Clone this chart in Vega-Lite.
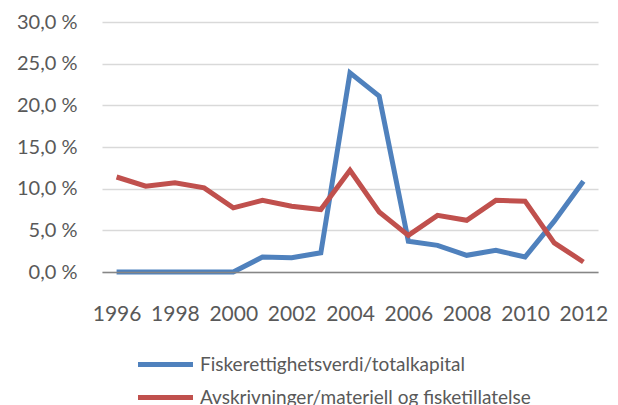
{
  "$schema": "https://vega.github.io/schema/vega-lite/v6.json",
  "width": 496,
  "height": 250,
  "autosize": {"type": "none"},
  "padding": {"left": 102, "top": 22, "right": 20, "bottom": 133},
  "background": "white",
  "config": {
    "view": {"stroke": null},
    "font": "Lato"
  },
  "data": {
    "values": [
      {"year": 1996, "series": "Fiskerettighetsverdi/totalkapital", "value": 0},
      {"year": 1997, "series": "Fiskerettighetsverdi/totalkapital", "value": 0},
      {"year": 1998, "series": "Fiskerettighetsverdi/totalkapital", "value": 0},
      {"year": 1999, "series": "Fiskerettighetsverdi/totalkapital", "value": 0},
      {"year": 2000, "series": "Fiskerettighetsverdi/totalkapital", "value": 0},
      {"year": 2001, "series": "Fiskerettighetsverdi/totalkapital", "value": 1.8},
      {"year": 2002, "series": "Fiskerettighetsverdi/totalkapital", "value": 1.7},
      {"year": 2003, "series": "Fiskerettighetsverdi/totalkapital", "value": 2.3},
      {"year": 2004, "series": "Fiskerettighetsverdi/totalkapital", "value": 23.9},
      {"year": 2005, "series": "Fiskerettighetsverdi/totalkapital", "value": 21.1},
      {"year": 2006, "series": "Fiskerettighetsverdi/totalkapital", "value": 3.7},
      {"year": 2007, "series": "Fiskerettighetsverdi/totalkapital", "value": 3.2},
      {"year": 2008, "series": "Fiskerettighetsverdi/totalkapital", "value": 2.0},
      {"year": 2009, "series": "Fiskerettighetsverdi/totalkapital", "value": 2.6},
      {"year": 2010, "series": "Fiskerettighetsverdi/totalkapital", "value": 1.8},
      {"year": 2011, "series": "Fiskerettighetsverdi/totalkapital", "value": 6.1},
      {"year": 2012, "series": "Fiskerettighetsverdi/totalkapital", "value": 10.9},
      {"year": 1996, "series": "Avskrivninger/materiell og fisketillatelse", "value": 11.4},
      {"year": 1997, "series": "Avskrivninger/materiell og fisketillatelse", "value": 10.3},
      {"year": 1998, "series": "Avskrivninger/materiell og fisketillatelse", "value": 10.7},
      {"year": 1999, "series": "Avskrivninger/materiell og fisketillatelse", "value": 10.1},
      {"year": 2000, "series": "Avskrivninger/materiell og fisketillatelse", "value": 7.7},
      {"year": 2001, "series": "Avskrivninger/materiell og fisketillatelse", "value": 8.6},
      {"year": 2002, "series": "Avskrivninger/materiell og fisketillatelse", "value": 7.9},
      {"year": 2003, "series": "Avskrivninger/materiell og fisketillatelse", "value": 7.5},
      {"year": 2004, "series": "Avskrivninger/materiell og fisketillatelse", "value": 12.2},
      {"year": 2005, "series": "Avskrivninger/materiell og fisketillatelse", "value": 7.2},
      {"year": 2006, "series": "Avskrivninger/materiell og fisketillatelse", "value": 4.4},
      {"year": 2007, "series": "Avskrivninger/materiell og fisketillatelse", "value": 6.8},
      {"year": 2008, "series": "Avskrivninger/materiell og fisketillatelse", "value": 6.2},
      {"year": 2009, "series": "Avskrivninger/materiell og fisketillatelse", "value": 8.6},
      {"year": 2010, "series": "Avskrivninger/materiell og fisketillatelse", "value": 8.5},
      {"year": 2011, "series": "Avskrivninger/materiell og fisketillatelse", "value": 3.5},
      {"year": 2012, "series": "Avskrivninger/materiell og fisketillatelse", "value": 1.2}
    ]
  },
  "mark": {"type": "line", "strokeWidth": 5, "strokeCap": "butt", "strokeJoin": "miter", "zindex": 2},
  "encoding": {
    "x": {
      "field": "year",
      "type": "ordinal",
      "sort": "ascending",
      "scale": {"type": "point", "padding": 0.5},
      "axis": {
        "title": null,
        "values": [1996, 1998, 2000, 2002, 2004, 2006, 2008, 2010, 2012],
        "labelAngle": 0,
        "labelFontSize": 21,
        "labelColor": "#595959",
        "labelPadding": 31,
        "ticks": false,
        "domainColor": "#868686",
        "domainWidth": 1.5,
        "grid": false,
        "zindex": 1
      }
    },
    "y": {
      "field": "value",
      "type": "quantitative",
      "scale": {"domain": [0, 30], "nice": false},
      "axis": {
        "title": null,
        "values": [0, 5, 10, 15, 20, 25, 30],
        "labelExpr": "replace(format(datum.value, '.1f'), '.', ',') + ' %'",
        "labelFontSize": 20,
        "labelColor": "#595959",
        "labelPadding": 25,
        "ticks": false,
        "domain": false,
        "grid": true,
        "gridColor": "#D9D9D9",
        "gridWidth": 1.5,
        "zindex": 0
      }
    },
    "color": {
      "field": "series",
      "type": "nominal",
      "sort": ["Fiskerettighetsverdi/totalkapital", "Avskrivninger/materiell og fisketillatelse"],
      "scale": {
        "domain": ["Fiskerettighetsverdi/totalkapital", "Avskrivninger/materiell og fisketillatelse"],
        "range": ["#4F81BD", "#C0504D"]
      },
      "legend": {
        "title": null,
        "orient": "none",
        "legendX": 54,
        "legendY": 333,
        "direction": "vertical",
        "padding": 0,
        "symbolType": "M-4,0H4",
        "symbolSize": 189,
        "symbolStrokeWidth": 5,
        "labelFontSize": 19,
        "labelColor": "#595959",
        "labelOffset": 25,
        "rowPadding": 12,
        "labelLimit": 0
      }
    }
  }
}
